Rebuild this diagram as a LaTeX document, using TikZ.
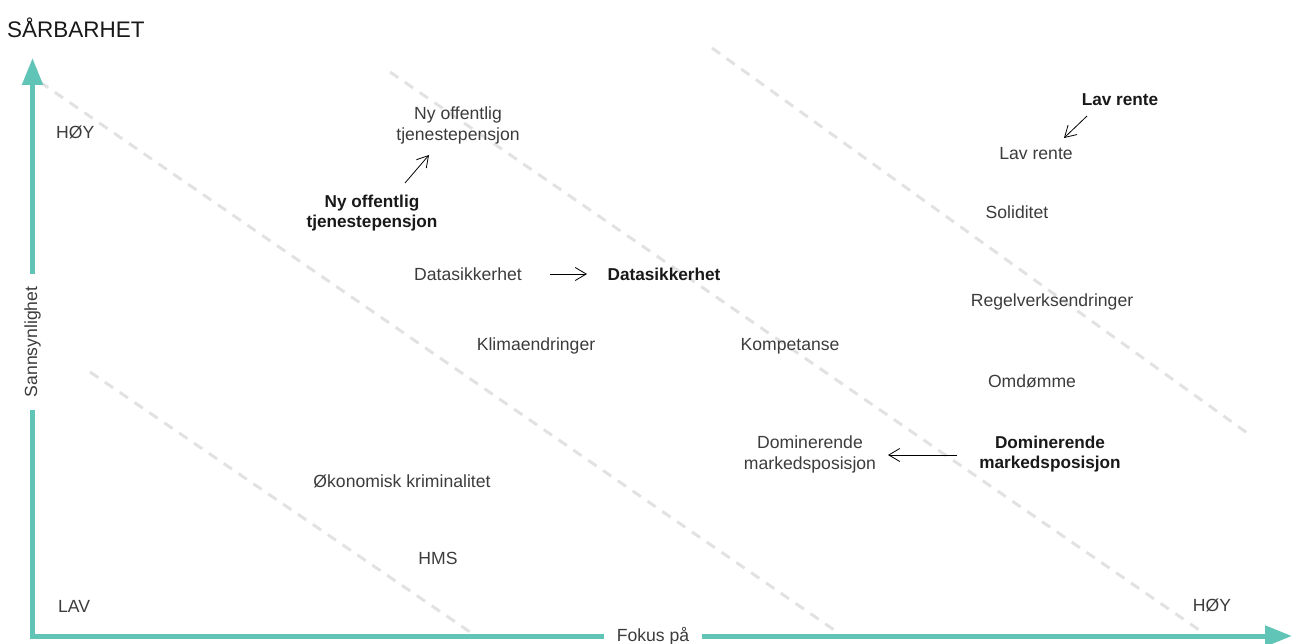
\documentclass[tikz,border=0pt]{standalone}
\usepackage{fontspec}
\setmainfont{Liberation Sans}
\usetikzlibrary{arrows.meta}
\definecolor{teal}{RGB}{96,196,182}
\definecolor{dashgray}{RGB}{226,226,226}
\definecolor{txt}{RGB}{60,60,60}
\definecolor{txtb}{RGB}{25,25,25}
\tikzset{
  axis/.style={draw=teal, line width=5pt, line join=miter,
    {Triangle[length=27pt,width=20pt]}-{Triangle[length=27pt,width=20pt]}},
  guide/.style={draw=dashgray, line width=3pt, dash pattern=on 10pt off 8pt},
  lbl/.style={text=txt, font=\fontsize{17.6}{21}\selectfont, align=center, inner sep=0pt},
  blbl/.style={text=txtb, font=\fontsize{17.2}{20}\selectfont\bfseries, align=center, inner sep=0pt},
  move/.style={draw=black, line width=0.8pt, -{Straight Barb[length=11pt,width=13pt]}},
  axlbl/.style={text=txt, font=\fontsize{17.6}{21}\selectfont, fill=white, inner ysep=2pt},
}
\begin{document}
\begin{tikzpicture}[x=1pt,y=-1pt]
\useasboundingbox (0,0) rectangle (1292,644);
% dashed guide lines
\coordinate (g1a) at (40,82);   \coordinate (g1b) at (840,634);
\coordinate (g2a) at (390,72);  \coordinate (g2b) at (1205,634);
\coordinate (g3a) at (712,48);  \coordinate (g3b) at (1250,435);
\coordinate (g4a) at (90,372);  \coordinate (g4b) at (473,634);
\draw[guide] (g1a) -- (g1b);
\draw[guide] (g2a) -- (g2b);
\draw[guide] (g3a) -- (g3b);
\draw[guide] (g4a) -- (g4b);
% axes
\coordinate (O) at (32.5,636);
\coordinate (ytip) at (32.5,58);
\coordinate (xtip) at (1292,636);
\draw[axis] (ytip) -- (O) -- (xtip);
\node[axlbl, rotate=90, inner xsep=13pt] (ylab) at (32.5,342) {Sannsynlighet};
\node[axlbl, inner xsep=13pt] (xlab) at (653,636) {Fokus på};
\node[anchor=west, text=txtb, font=\fontsize{22.5}{26}\selectfont, inner sep=0pt] (title) at (7,28) {SÅRBARHET};
\node[lbl, anchor=west] (hoy1) at (56,132) {HØY};
\node[lbl, anchor=west] (lav) at (58,606) {LAV};
\node[lbl] (hoy2) at (1212,605) {HØY};
% labels
\node[lbl] (nyo) at (458,125) {Ny offentlig\\tjenestepensjon};
\node[blbl] (nyob) at (372,213) {Ny offentlig\\tjenestepensjon};
\node[lbl] (data) at (468,274) {Datasikkerhet};
\node[blbl] (datab) at (664,274) {Datasikkerhet};
\node[blbl] (lavb) at (1120,100) {Lav rente};
\node[lbl] (lavr) at (1036,154) {Lav rente};
\node[lbl] (soli) at (1017,212) {Soliditet};
\node[lbl] (regel) at (1052,302) {Regelverksendringer};
\node[lbl] (klima) at (536,346) {Klimaendringer};
\node[lbl] (komp) at (790,346) {Kompetanse};
\node[lbl] (omd) at (1032,381) {Omdømme};
\node[lbl] (dom) at (810,454) {Dominerende\\markedsposisjon};
\node[blbl] (domb) at (1050,454) {Dominerende\\markedsposisjon};
\node[lbl] (oko) at (402,481) {Økonomisk kriminalitet};
\node[lbl] (hms) at (438,558) {HMS};
% movement arrows
\coordinate (a1s) at (405,183); \coordinate (a1e) at (429,155);
\coordinate (a2s) at (550,274); \coordinate (a2e) at (587,274);
\coordinate (a3s) at (1087,116); \coordinate (a3e) at (1064,138);
\coordinate (a4s) at (957,455); \coordinate (a4e) at (888,455);
\draw[move] (a1s) -- (a1e);
\draw[move] (a2s) -- (a2e);
\draw[move] (a3s) -- (a3e);
\draw[move] (a4s) -- (a4e);
\end{tikzpicture}
\end{document}
